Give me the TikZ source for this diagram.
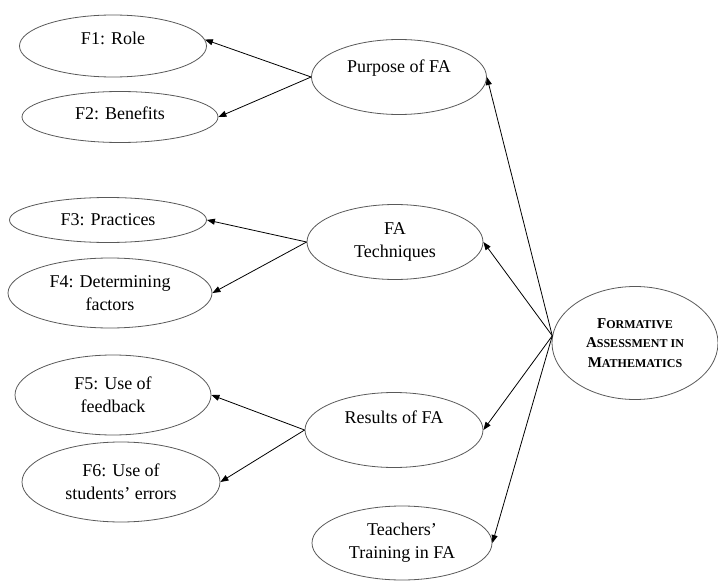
\documentclass[tikz,border=0pt]{standalone}
\usepackage{fontspec}
\setmainfont{Liberation Serif}
\usepackage{tikz}
\usetikzlibrary{shapes}
\usetikzlibrary{arrows.meta}
\tikzset{>={Triangle[width=6pt,length=8pt]}}
\newcommand{\fakesc}[2]{{\fontsize{15}{19.5}\selectfont #1}{\fontsize{12}{19.5}\selectfont #2}}

\begin{document}
\begin{tikzpicture}[x=1pt,y=-1pt]
        \tikzstyle{onode} = [draw=black!65, line width=0.8pt, ellipse, inner sep=0pt, align=center, font=\fontsize{18}{23}\selectfont]
        \tikzstyle{lift} = [text height=13pt, text depth=#1]
        \useasboundingbox (0,0) rectangle (718,583);

        \node[onode, minimum width=166, minimum height=113, font=\fontsize{12}{19.5}\selectfont\bfseries] (fam) at (635,343)
            {\fakesc{F}{ORMATIVE}\\ \fakesc{A}{SSESSMENT IN}\\ \fakesc{M}{ATHEMATICS}};

        \node[onode, lift=21pt, minimum width=175, minimum height=75] (pur) at (399,77) {Purpose of FA};
        \node[onode, minimum width=176, minimum height=75] (tec) at (395,242) {FA\\Techniques};
        \node[onode, lift=27pt, minimum width=178, minimum height=75] (res) at (394,430) {Results of FA};
        \node[onode, minimum width=180, minimum height=74] (tea) at (402,543) {Teachers’\\Training in FA};

        \node[onode, lift=15pt, minimum width=187, minimum height=62] (fa1) at (113,46) {F1: Role};
        \node[onode, lift=7pt, minimum width=196, minimum height=51] (fa2) at (120,117) {F2: Benefits};
        \node[onode, minimum width=197, minimum height=45] (fa3) at (108,220) {F3: Practices};
        \node[onode, minimum width=204, minimum height=70] (fa4) at (110,293) {F4: Determining\\factors};
        \node[onode, minimum width=196, minimum height=80] (fa5) at (113,395) {F5: Use of\\feedback};
        \node[onode, minimum width=198, minimum height=80] (fa6) at (121,482) {F6: Use of\\students’ errors};

        \draw[->,line width=0.8pt] (fam.175) -- (pur.east);
        \draw[->,line width=0.8pt] (fam.175) -- (tec.east);
        \draw[->,line width=0.8pt] (fam.175) -- (res.east);
        \draw[->,line width=0.8pt] (fam.175) -- (tea.east);

        \draw[->,line width=0.8pt] (pur.west) -- (fa1.4);
        \draw[->,line width=0.8pt] (pur.west) -- (fa2.east);
        \draw[->,line width=0.8pt] (tec.west) -- (fa3.east);
        \draw[->,line width=0.8pt] (tec.west) -- (fa4.east);
        \draw[->,line width=0.8pt] (res.west) -- (fa5.east);
        \draw[->,line width=0.8pt] (res.west) -- (fa6.east);
      \end{tikzpicture}
\end{document}
